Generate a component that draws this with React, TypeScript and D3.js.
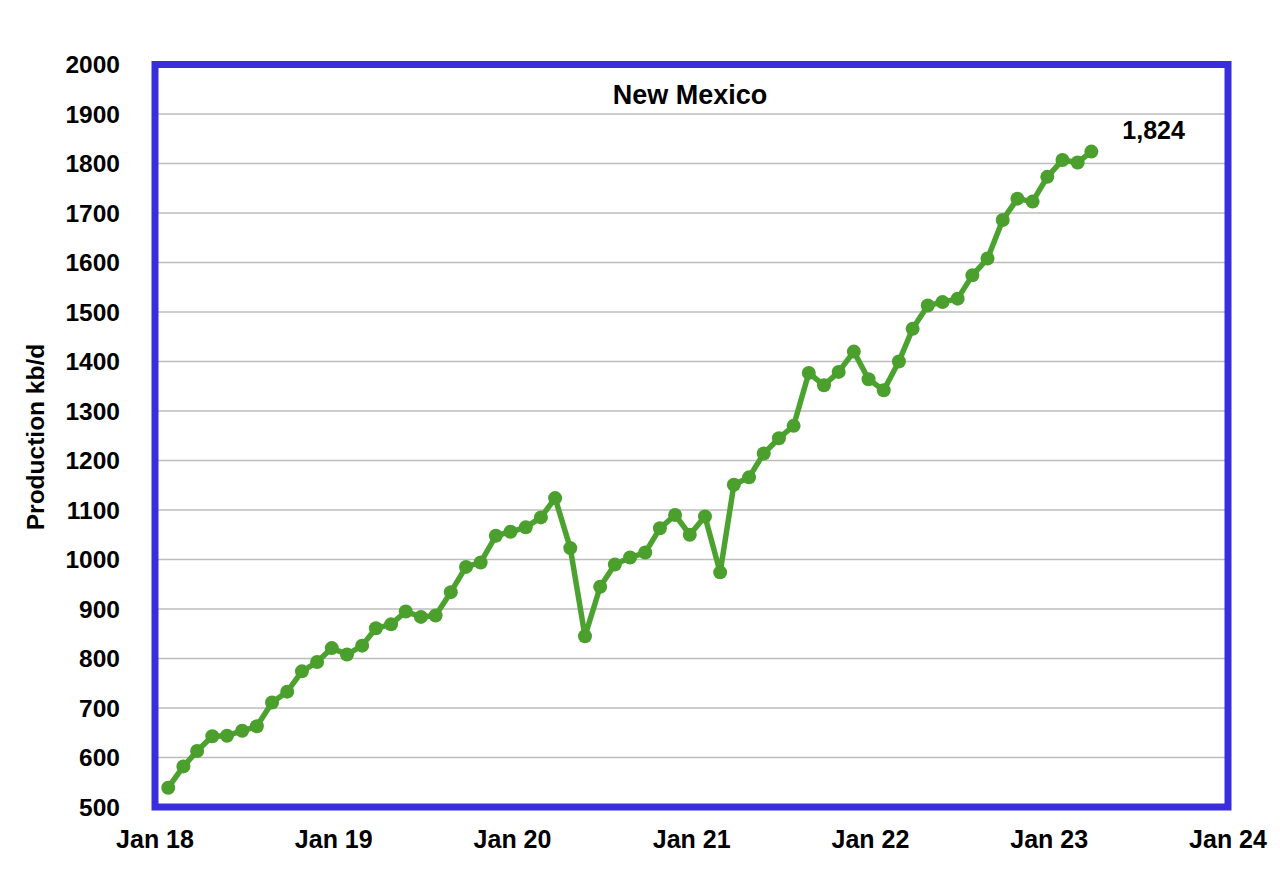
import React, { useRef, useEffect } from 'react';
import * as d3 from 'd3';

// monthly production, Jan 2018 .. Mar 2023 (kb/d)
const production = [
  539, 582, 613, 643, 644, 654, 663, 711, 733, 774, 793, 821,
  808, 826, 861, 869, 895, 884, 887, 934, 985, 994, 1048, 1056,
  1065, 1085, 1124, 1023, 845, 945, 990, 1004, 1014, 1063, 1090, 1050,
  1087, 974, 1151, 1166, 1214, 1245, 1270, 1377, 1352, 1379, 1420, 1364,
  1342, 1400, 1466, 1513, 1520, 1527, 1574, 1608, 1686, 1729, 1723, 1773,
  1807, 1802, 1824,
];
const yTicks = [500, 600, 700, 800, 900, 1000, 1100, 1200, 1300, 1400, 1500, 1600, 1700, 1800, 1900, 2000];
const xTickYears = [2018, 2019, 2020, 2021, 2022, 2023, 2024];
const xTickLabels = ['Jan 18', 'Jan 19', 'Jan 20', 'Jan 21', 'Jan 22', 'Jan 23', 'Jan 24'];
const title = 'New Mexico';
const yTitle = 'Production kb/d';
const lastLabel = '1,824';

const FONT = '"Liberation Sans", Arial, Helvetica, sans-serif';

const NewMexicoChart: React.FC = () => {
  const svgRef = useRef<SVGSVGElement | null>(null);

  useEffect(() => {
    const svg = d3.select(svgRef.current!);
    svg.selectAll('*').remove();

    const left = 155, right = 1228, top = 64.5, bottom = 807;

    const x = d3.scaleTime()
      .domain([new Date(2018, 0, 1), new Date(2024, 0, 1)])
      .range([left, right]);

    const y = d3.scaleLinear()
      .domain([500, 2000])
      .range([bottom, top]);

    const data = production.map((v, i) => ({ date: new Date(2018, i, 28), value: v }));

    // gridlines
    svg.append('g')
      .selectAll('line')
      .data(yTicks.filter((t) => t > 500 && t < 2000))
      .join('line')
      .attr('x1', left)
      .attr('x2', right)
      .attr('y1', (d) => y(d))
      .attr('y2', (d) => y(d))
      .attr('stroke', '#bdbdbd')
      .attr('stroke-width', 1.3);

    // plot frame
    svg.append('rect')
      .attr('x', left)
      .attr('y', top)
      .attr('width', right - left)
      .attr('height', bottom - top)
      .attr('fill', 'none')
      .attr('stroke', '#3a2ddc')
      .attr('stroke-width', 7);

    // y tick labels
    svg.append('g')
      .selectAll('text')
      .data(yTicks)
      .join('text')
      .attr('x', 120)
      .attr('y', (d) => y(d))
      .attr('dy', '0.36em')
      .attr('text-anchor', 'end')
      .attr('font-family', FONT)
      .attr('font-weight', 'bold')
      .attr('font-size', 24.5)
      .attr('fill', '#000')
      .text((d) => String(d));

    // x tick labels
    svg.append('g')
      .selectAll('text')
      .data(xTickYears)
      .join('text')
      .attr('x', (d) => x(new Date(d, 0, 1)))
      .attr('y', 848)
      .attr('text-anchor', 'middle')
      .attr('font-family', FONT)
      .attr('font-weight', 'bold')
      .attr('font-size', 25)
      .attr('fill', '#000')
      .text((_, i) => xTickLabels[i]);

    // title
    svg.append('text')
      .attr('x', 690)
      .attr('y', 104)
      .attr('text-anchor', 'middle')
      .attr('font-family', FONT)
      .attr('font-weight', 'bold')
      .attr('font-size', 27)
      .attr('fill', '#000')
      .text(title);

    // y axis title
    svg.append('text')
      .attr('transform', 'translate(44,437) rotate(-90)')
      .attr('text-anchor', 'middle')
      .attr('font-family', FONT)
      .attr('font-weight', 'bold')
      .attr('font-size', 24.5)
      .attr('fill', '#000')
      .text(yTitle);

    const line = d3.line<{ date: Date; value: number }>()
      .x((d) => x(d.date))
      .y((d) => y(d.value));

    svg.append('path')
      .datum(data)
      .attr('fill', 'none')
      .attr('stroke', '#4ca22f')
      .attr('stroke-width', 5.5)
      .attr('stroke-linejoin', 'round')
      .attr('d', line);

    svg.append('g')
      .selectAll('circle')
      .data(data)
      .join('circle')
      .attr('cx', (d) => x(d.date))
      .attr('cy', (d) => y(d.value))
      .attr('r', 7)
      .attr('fill', '#4a9f2d');

    // last value label
    const last = data[data.length - 1];
    svg.append('text')
      .attr('x', x(last.date) + 31)
      .attr('y', y(last.value) - 13)
      .attr('font-family', FONT)
      .attr('font-weight', 'bold')
      .attr('font-size', 25)
      .attr('fill', '#000')
      .text(lastLabel);
  }, []);

  return (
    <svg
      ref={svgRef}
      width={1280}
      height={874}
      style={{ position: 'absolute', left: 0, top: 0, background: '#fff' }}
    ></svg>
  );
};

export default function App() {
  return <NewMexicoChart />;
}
